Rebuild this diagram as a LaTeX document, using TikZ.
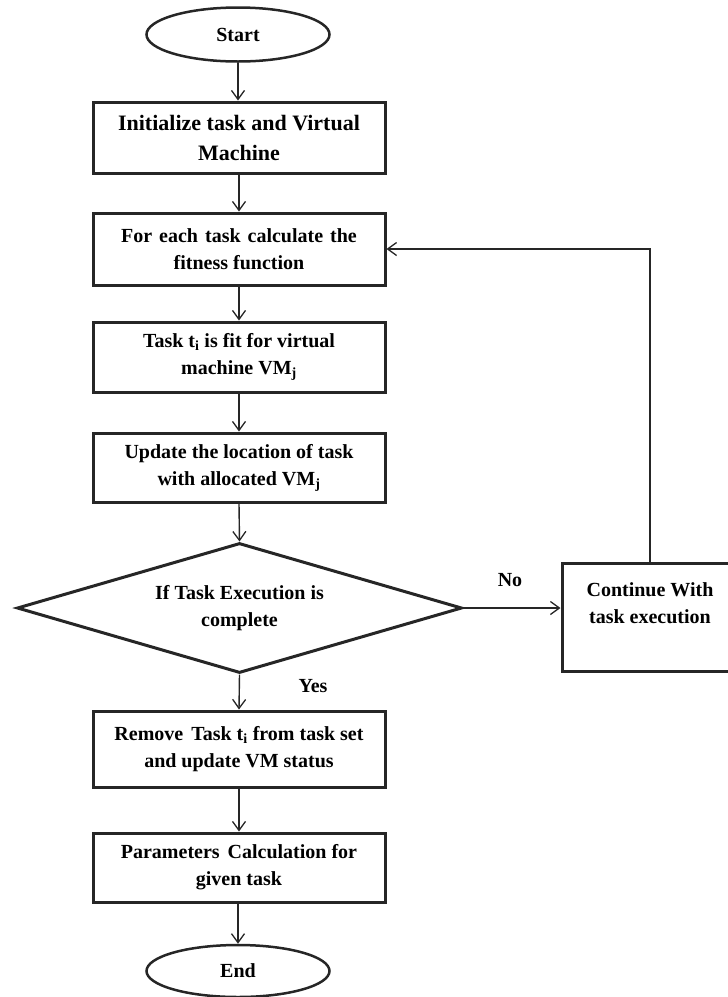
\documentclass[tikz,border=0pt]{standalone}
\usepackage{fontspec}
\setmainfont{Liberation Serif}
\usetikzlibrary{shapes.geometric,arrows.meta}
\begin{document}
\begin{tikzpicture}[x=1pt,y=-1pt,
  every node/.style={font=\bfseries\fontsize{20}{27}\selectfont, text=black},
  procbox/.style={draw=black!85, line width=3pt, rectangle, minimum width=292pt, align=center, inner sep=2pt},
  term/.style={draw=black!85, line width=2.5pt, ellipse, minimum width=183pt, minimum height=54pt, inner sep=0pt},
  decision/.style={draw=black!85, line width=3pt, diamond, aspect=3.4, minimum width=445pt, minimum height=130pt, align=center, inner sep=1pt},
  flow/.style={draw=black!85, line width=1.4pt, -{Straight Barb[length=9pt,width=13pt,line width=1.3pt]}},
  lbl/.style={inner sep=0pt}
]
\useasboundingbox (0,0) rectangle (728,997);
\node[term] (start) at (238,34.5) {Start};
\node[procbox, minimum height=71pt, font=\bfseries\fontsize{22}{30}\selectfont] (b1) at (239,137.5) {Initialize task and Virtual\\Machine};
\node[procbox, minimum height=72pt] (b2) at (239,249) {For\hspace{0.35em}each\hspace{0.35em}task\hspace{0.35em}calculate\hspace{0.35em}the\\fitness function};
\node[procbox, minimum height=70pt] (b3) at (239,357) {Task t\textsubscript{i} is fit for virtual\\machine VM\textsubscript{j}};
\node[procbox, minimum height=69pt] (b4) at (239,467.5) {Update the location of task\\with allocated VM\textsubscript{j}};
\node[decision] (dec) at (239.5,608) {If Task Execution is\\complete};
\node[procbox, minimum width=176pt, minimum height=108pt] (cont) at (650,617) {Continue With\\task execution\\\mbox{}};
\node[procbox, minimum height=76pt] (b5) at (239,749) {Remove\hspace{0.4em}Task t\textsubscript{i} from task set\\and update VM status};
\node[procbox, minimum height=69pt] (b6) at (239,867.5) {Parameters\hspace{0.4em}Calculation for\\given task};
\node[term, minimum height=52pt] (end) at (238,971) {End};
\node[lbl] (no) at (510,580) {No};
\node[lbl] (yes) at (313,686) {Yes};

\draw[flow] (start.south) -- (start.south |- b1.north);
\draw[flow] (b1.south) -- (b2.north);
\draw[flow] (b2.south) -- (b3.north);
\draw[flow] (b3.south) -- (b4.north);
\draw[flow] (b4.south) -- (dec.north);
\draw[flow] (dec.east) -- (dec.east -| cont.west);
\draw[flow] (cont.north) -- (cont.north |- b2.east) -- (b2.east);
\draw[flow] (dec.south) -- (b5.north);
\draw[flow] (b5.south) -- (b6.north);
\draw[flow, shorten <=10pt] (b6.south) -- (b6.south -| end.north) -- (end.north);
\end{tikzpicture}
\end{document}
